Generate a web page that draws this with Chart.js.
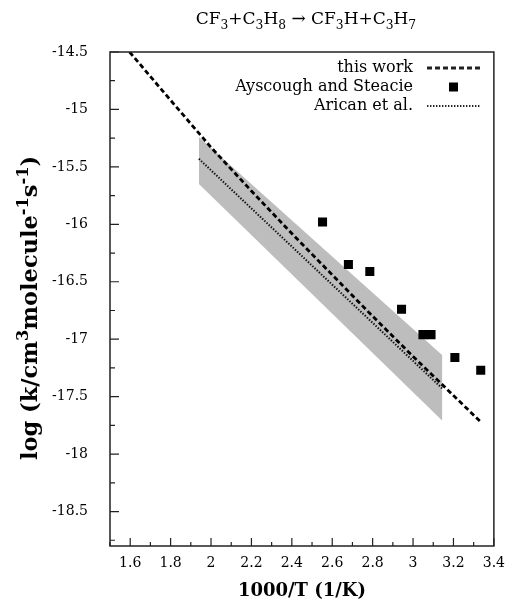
<!DOCTYPE html>
<html>
<head>
<meta charset="utf-8">
<script src="https://cdn.jsdelivr.net/npm/chart.js@4.4.1/dist/chart.umd.min.js"></script>
<style>
  html, body { margin: 0; padding: 0; background: #fff; }
  #wrap { width: 514px; height: 600px; }
</style>
</head>
<body>
<div id="wrap"><canvas id="chart"></canvas></div>
<script>
// values (x = 1000/T, y = log k)
const thisWorkX = [1.597, 1.8, 2.0, 2.2, 2.4, 2.6, 2.8, 3.0, 3.2, 3.335];
const thisWorkY = [-14.50, -14.92, -15.33, -15.71, -16.08, -16.44, -16.80, -17.15, -17.49, -17.72];

const ayscoughX = [2.552, 2.680, 2.786, 2.943, 3.049, 3.089, 3.207, 3.335];
const ayscoughY = [-15.98, -16.35, -16.41, -16.74, -16.96, -16.96, -17.16, -17.27];

const aricanX = [1.94, 3.145];
const aricanY = [-15.43, -17.43];

const bandX = [1.94, 3.145];
const bandUpperY = [-15.24, -17.14];
const bandLowerY = [-15.65, -17.71];

const xTicks = [1.6, 1.8, 2.0, 2.2, 2.4, 2.6, 2.8, 3.0, 3.2, 3.4];
const yTicks = [-14.5, -15, -15.5, -16, -16.5, -17, -17.5, -18, -18.5];

const FONT = "'DejaVu Serif', serif";

const pts = (xs, ys) => xs.map((x, i) => ({ x, y: ys[i] }));

// draw text with sub/superscript pieces
function drawRich(ctx, parts, x, y, size, weight, align) {
    const font = s => `${weight} ${s}px ${FONT}`;
    let total = 0;
    parts.forEach(([t, mode]) => {
        ctx.font = font(mode ? size * 0.72 : size);
        total += ctx.measureText(t).width;
    });
    let cx = align === 'center' ? x - total / 2 : align === 'right' ? x - total : x;
    ctx.textBaseline = 'alphabetic';
    ctx.textAlign = 'left';
    parts.forEach(([t, mode]) => {
        ctx.font = font(mode ? size * 0.72 : size);
        const dy = mode === 'sub' ? size * 0.3 : mode === 'sup' ? -size * 0.42 : 0;
        ctx.fillText(t, cx, y + dy);
        cx += ctx.measureText(t).width;
    });
}

const frameAndText = {
    id: 'frameAndText',
    afterDraw(chart) {
        const { ctx, chartArea: a, scales } = chart;
        ctx.save();
        ctx.fillStyle = '#000';
        ctx.strokeStyle = '#222';

        // frame
        ctx.lineWidth = 1.5;
        ctx.strokeRect(a.left, a.top, a.right - a.left, a.bottom - a.top);

        // inward ticks (left and bottom only)
        ctx.lineWidth = 1.2;
        ctx.beginPath();
        const xs = scales.x, ys = scales.y;
        xTicks.forEach(v => {
            const px = xs.getPixelForValue(v);
            ctx.moveTo(px, a.bottom); ctx.lineTo(px, a.bottom - 8);
            const m = xs.getPixelForValue(v - 0.1);
            ctx.moveTo(m, a.bottom); ctx.lineTo(m, a.bottom - 4);
        });
        yTicks.forEach(v => {
            const py = ys.getPixelForValue(v);
            ctx.moveTo(a.left, py); ctx.lineTo(a.left + 9, py);
            const m = ys.getPixelForValue(v - 0.25);
            ctx.moveTo(a.left, m); ctx.lineTo(a.left + 5, m);
        });
        ctx.stroke();

        // title
        const cx = (a.left + a.right) / 2;
        drawRich(ctx, [['CF'], ['3', 'sub'], ['+C'], ['3', 'sub'], ['H'], ['8', 'sub'],
            [' \u2192 CF'], ['3', 'sub'], ['H+C'], ['3', 'sub'], ['H'], ['7', 'sub']],
            cx + 4, 24, 17, 'normal', 'center');

        // axis titles
        drawRich(ctx, [['1000/T (1/K)']], cx, 596, 18, 'bold', 'center');
        ctx.save();
        ctx.translate(37, 308);
        ctx.rotate(-Math.PI / 2);
        drawRich(ctx, [['log (k/cm'], ['3', 'sup'], ['molecule'], ['-1', 'sup'], ['s'], ['-1', 'sup'], [')']],
            0, 0, 22.5, 'bold', 'center');
        ctx.restore();

        // legend
        const textRight = a.left + 303;
        const sx0 = a.left + 317, sx1 = a.left + 370;
        chart.data.datasets.forEach(ds => {
            if (ds.legendRow == null) return;
            const y = a.top + 16 + ds.legendRow * 19;
            ctx.font = `16px ${FONT}`;
            ctx.textAlign = 'right';
            ctx.textBaseline = 'middle';
            ctx.fillText(ds.label, textRight, y);
            if (ds.showLine === false) {
                const s = 9;
                ctx.fillRect((sx0 + sx1) / 2 - s / 2, y - s / 2, s, s);
            } else {
                ctx.save();
                ctx.lineWidth = ds.borderWidth;
                ctx.setLineDash(ds.borderDash);
                ctx.beginPath();
                ctx.moveTo(sx0, y); ctx.lineTo(sx1, y);
                ctx.stroke();
                ctx.restore();
            }
        });
        ctx.restore();
    }
};

new Chart(document.getElementById('chart'), {
    type: 'line',
    data: {
        datasets: [
            {
                label: 'this work',
                legendRow: 0,
                data: pts(thisWorkX, thisWorkY),
                borderColor: '#000',
                borderWidth: 2.8,
                borderDash: [5, 3],
                pointRadius: 0,
                fill: false
            },
            {
                label: 'Ayscough and Steacie',
                legendRow: 1,
                data: pts(ayscoughX, ayscoughY),
                showLine: false,
                pointStyle: 'rect',
                pointRadius: 6.4,
                pointBackgroundColor: '#000',
                pointBorderWidth: 0
            },
            {
                label: 'Arican et al.',
                legendRow: 2,
                data: pts(aricanX, aricanY),
                borderColor: '#111',
                borderWidth: 2,
                borderDash: [1.4, 1.6],
                pointRadius: 0,
                fill: false
            },
            {
                label: 'band upper',
                data: pts(bandX, bandUpperY),
                borderWidth: 0,
                pointRadius: 0,
                fill: false
            },
            {
                label: 'band lower',
                data: pts(bandX, bandLowerY),
                borderWidth: 0,
                pointRadius: 0,
                backgroundColor: '#bdbdbd',
                fill: '-1'
            }
        ]
    },
    options: {
        responsive: true,
        maintainAspectRatio: false,
        animation: false,
        layout: { padding: { top: 52, right: 12, left: 0, bottom: 0 } },
        plugins: {
            legend: { display: false },
            tooltip: { enabled: false },
            title: { display: false }
        },
        scales: {
            x: {
                type: 'linear',
                min: 1.5,
                max: 3.4,
                grid: { display: false, drawTicks: false },
                border: { display: false },
                afterBuildTicks: s => { s.ticks = xTicks.map(v => ({ value: v })); },
                afterFit: s => { s.height = 54; },
                ticks: {
                    color: '#000',
                    font: { family: FONT, size: 14 },
                    padding: 9,
                    maxRotation: 0,
                    autoSkip: false,
                    callback: v => String(v)
                }
            },
            y: {
                type: 'linear',
                min: -18.8,
                max: -14.5,
                grid: { display: false, drawTicks: false },
                border: { display: false },
                afterBuildTicks: s => { s.ticks = yTicks.map(v => ({ value: v })); },
                afterFit: s => { s.width = 110; },
                ticks: {
                    color: '#000',
                    font: { family: FONT, size: 14 },
                    padding: 22,
                    autoSkip: false,
                    callback: v => String(v)
                }
            }
        }
    },
    plugins: [frameAndText]
});
</script>
</body>
</html>
